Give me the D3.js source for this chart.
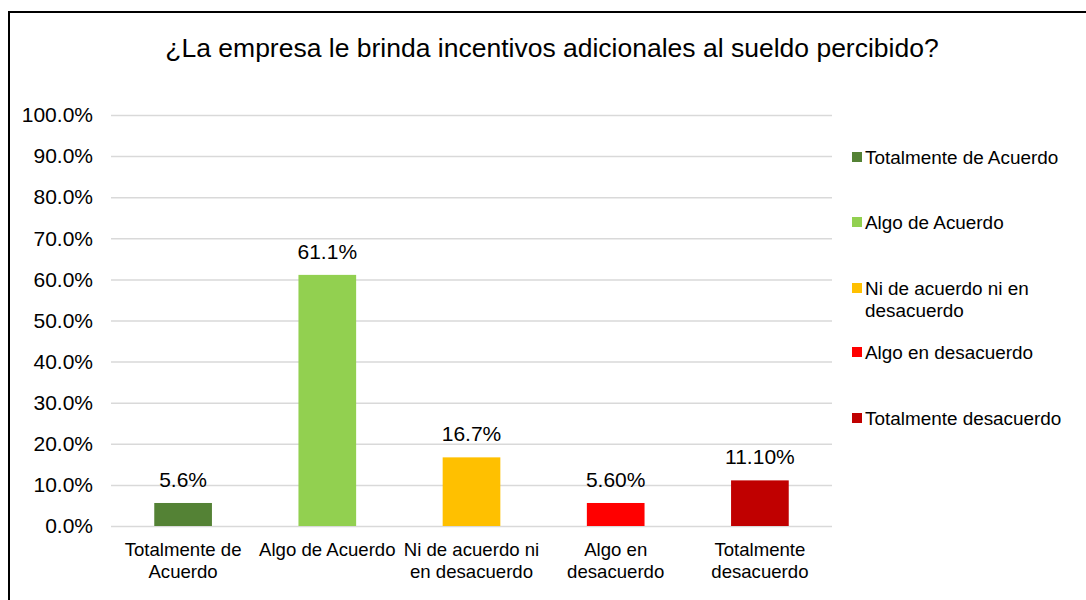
<!DOCTYPE html>
<html>
<head>
<meta charset="utf-8">
<script src="https://cdn.jsdelivr.net/npm/d3@7/dist/d3.min.js"></script>
<style>
  body { margin: 0; background: #fff; }
  text { font-family: "Liberation Sans", Arial, sans-serif; fill: #000; }
</style>
</head>
<body>
<div id="content"></div>
<script>
let categories = ["Totalmente de Acuerdo", "Algo de Acuerdo", "Ni de acuerdo ni en desacuerdo", "Algo en desacuerdo", "Totalmente desacuerdo"];
let values = [5.6, 61.1, 16.7, 5.6, 11.1];
let valueLabels = ["5.6%", "61.1%", "16.7%", "5.60%", "11.10%"];
let axisLines = [["Totalmente de", "Acuerdo"], ["Algo de Acuerdo"], ["Ni de acuerdo ni", "en desacuerdo"], ["Algo en", "desacuerdo"], ["Totalmente", "desacuerdo"]];
let legendLines = [["Totalmente de Acuerdo"], ["Algo de Acuerdo"], ["Ni de acuerdo ni en", "desacuerdo"], ["Algo en desacuerdo"], ["Totalmente desacuerdo"]];
let colors = ["#548235", "#92d050", "#ffc000", "#ff0000", "#c00000"];
let yTicks = [0, 10, 20, 30, 40, 50, 60, 70, 80, 90, 100];

const W = 1086, H = 600;
const plot = {left: 111, right: 832, top: 115, bottom: 526};

let svg = d3.select("#content")
    .append("svg")
    .attr("width", W)
    .attr("height", H);

// chart border
svg.append("rect")
    .attr("x", 9)
    .attr("y", 12)
    .attr("width", W + 20)
    .attr("height", H + 20)
    .attr("fill", "#fff")
    .attr("stroke", "#000")
    .attr("stroke-width", 2);

// title
svg.append("text")
    .attr("x", 552)
    .attr("y", 57)
    .attr("text-anchor", "middle")
    .style("font-size", "26.5px")
    .text("¿La empresa le brinda incentivos adicionales al sueldo percibido?");

const x = d3.scaleBand()
    .domain(categories)
    .range([plot.left, plot.right])
    .paddingInner(0.6)
    .paddingOuter(0.3);

const y = d3.scaleLinear()
    .domain([0, 100])
    .range([plot.bottom, plot.top]);

// gridlines
let yAxis = svg.append("g")
    .attr("class", "y axis")
    .attr("transform", "translate(" + plot.left + ",0)")
    .call(d3.axisLeft(y)
        .tickValues(yTicks)
        .tickSize(-(plot.right - plot.left))
        .tickFormat(function(d) { return d.toFixed(1) + "%"; }));

yAxis.select(".domain").remove();
yAxis.selectAll("line")
    .attr("stroke", "#d9d9d9")
    .attr("stroke-width", 1.5);
yAxis.selectAll("text")
    .attr("x", -18)
    .style("font-size", "21px")
    .style("font-family", "'Liberation Sans', Arial, sans-serif")
    .attr("fill", "#000");

// bars
svg.append("g")
    .selectAll("rect")
    .data(categories)
    .enter()
    .append("rect")
    .attr("x", function(d) { return x(d); })
    .attr("y", function(d, i) { return y(values[i]); })
    .attr("width", x.bandwidth())
    .attr("height", function(d, i) { return y(0) - y(values[i]); })
    .attr("fill", function(d, i) { return colors[i]; });

// value labels
svg.append("g")
    .selectAll("text")
    .data(categories)
    .enter()
    .append("text")
    .attr("x", function(d) { return x(d) + x.bandwidth() / 2; })
    .attr("y", function(d, i) { return y(values[i]) - 16; })
    .attr("text-anchor", "middle")
    .style("font-size", "21px")
    .text(function(d, i) { return valueLabels[i]; });

// category labels
let catG = svg.append("g");
categories.forEach(function(d, i) {
    let t = catG.append("text")
        .attr("x", x(d) + x.bandwidth() / 2)
        .attr("y", 556)
        .attr("text-anchor", "middle")
        .style("font-size", "18.6px");
    axisLines[i].forEach(function(line, j) {
        t.append("tspan")
            .attr("x", x(d) + x.bandwidth() / 2)
            .attr("dy", j == 0 ? 0 : 22)
            .text(line);
    });
});

// legend
let legendY = [157, 222, 288, 352, 418];
let legend = svg.append("g");
categories.forEach(function(d, i) {
    legend.append("rect")
        .attr("x", 852)
        .attr("y", legendY[i] - 5)
        .attr("width", 10)
        .attr("height", 10)
        .attr("fill", colors[i]);
    let t = legend.append("text")
        .attr("x", 865)
        .attr("y", legendY[i] + 6.5)
        .style("font-size", "18.9px");
    legendLines[i].forEach(function(line, j) {
        t.append("tspan")
            .attr("x", 865)
            .attr("dy", j == 0 ? 0 : 22)
            .text(line);
    });
});
</script>
</body>
</html>
